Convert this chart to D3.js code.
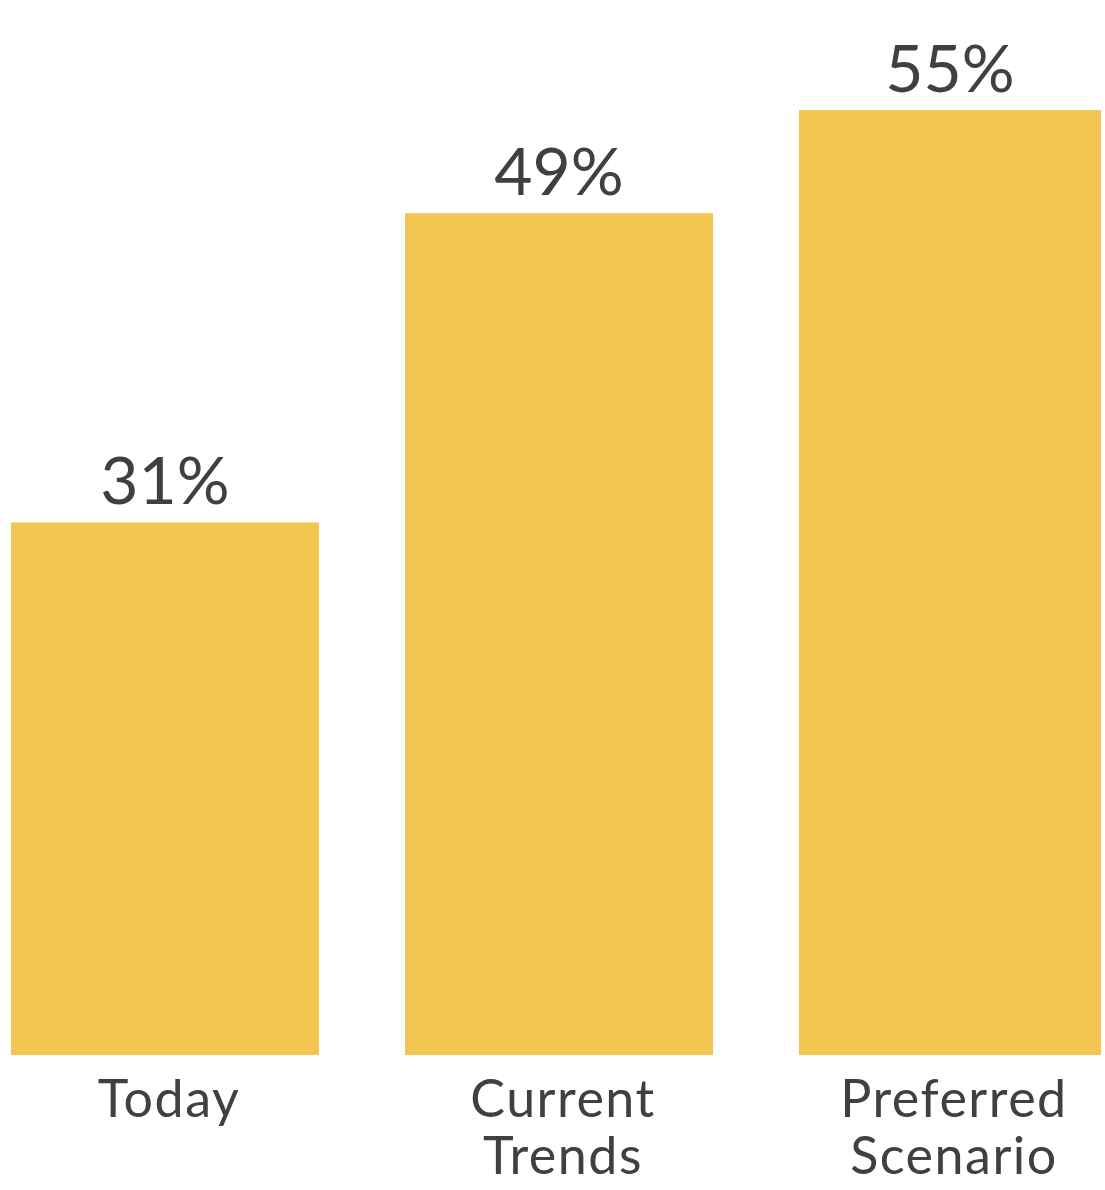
<!DOCTYPE html>
<html><head><meta charset="utf-8">
<script src="https://cdn.jsdelivr.net/npm/d3@7"></script>
<style>html,body{margin:0;padding:0;background:#fff;overflow:hidden}</style>
</head><body>
<script>
const categories = [["Today"], ["Current", "Trends"], ["Preferred", "Scenario"]];
const categoryKeys = ["Today", "Current Trends", "Preferred Scenario"];
const values = [31, 49, 55];
const valueLabels = ["31%", "49%", "55%"];

const W = 1105, H = 1190;
const svg = d3.select("body").append("svg").attr("width", W).attr("height", H);
svg.append("defs").append("clipPath").attr("id", "clip")
  .append("rect").attr("x", 0).attr("y", 0).attr("width", 1101).attr("height", H);

const x = d3.scaleBand().domain(categoryKeys).range([11, 1107]).paddingInner(86 / 394).paddingOuter(0);
const y = d3.scaleLinear().domain([0, 60]).range([1055, 1055 - 60 * 17.18]);

const g = svg.append("g").attr("clip-path", "url(#clip)");
g.selectAll("rect.bar").data(values).join("rect").attr("class", "bar")
  .attr("x", (d, i) => x(categoryKeys[i]))
  .attr("width", x.bandwidth())
  .attr("y", d => y(d))
  .attr("height", d => y(0) - y(d))
  .attr("fill", "#F3C651");

const font = "Lato, 'Liberation Sans', sans-serif";
const cx = (i) => Math.min(x(categoryKeys[i]) + x.bandwidth() / 2, (x(categoryKeys[i]) + 1101) / 2);

svg.selectAll("text.val").data(values).join("text").attr("class", "val")
  .attr("x", (d, i) => cx(i))
  .attr("y", d => y(d) - 18)
  .attr("text-anchor", "middle")
  .attr("font-family", font)
  .attr("font-size", 66)
  .attr("fill", "#404040")
  .text((d, i) => valueLabels[i]);

const lab = svg.selectAll("text.cat").data(categories).join("text").attr("class", "cat")
  .attr("text-anchor", "middle")
  .attr("font-family", font)
  .attr("font-size", 52)
  .attr("letter-spacing", 1.5)
  .attr("fill", "#404040");
lab.each(function(lines, i) {
  d3.select(this).selectAll("tspan").data(lines).join("tspan")
    .attr("x", cx(i) + 4)
    .attr("y", (l, j) => 1117 + j * 57)
    .text(l => l);
});
</script>
</body></html>
